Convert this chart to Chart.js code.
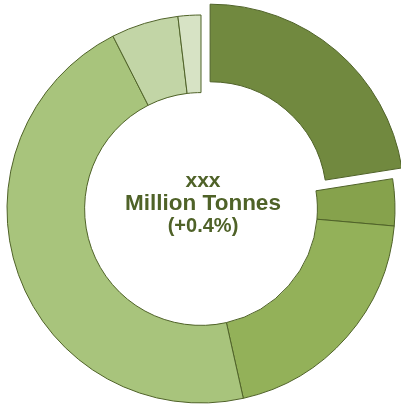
<!DOCTYPE html>
<html>
<head>
<meta charset="utf-8">
<script src="https://cdn.jsdelivr.net/npm/chart.js@4/dist/chart.umd.min.js"></script>
<style>
    body { margin: 0; background: #fff; }
    #wrap { position: relative; width: 401px; height: 407px; }
    #centre {
        position: absolute; left: 103px; top: 168px; width: 200px;
        text-align: center; color: #4F6228;
        font-family: "Liberation Sans", Arial, sans-serif; font-weight: bold;
        line-height: 23px;
    }
</style>
</head>
<body>
<div id="wrap">
    <canvas id="donut"></canvas>
    <div id="centre">
        <div style="font-size:21px">xxx</div>
        <div style="font-size:22.5px">Million Tonnes</div>
        <div style="font-size:20px">(+0.4%)</div>
    </div>
</div>
<script>
// share of each segment, clockwise from 12 o'clock (%)
const categories = ['Segment 1', 'Segment 2', 'Segment 3', 'Segment 4', 'Segment 5', 'Segment 6'];
const shares = [22.5, 3.9, 20.1, 46.0, 5.6, 1.9];
const colours = ['#71893F', '#86A24C', '#93B159', '#A8C47C', '#C2D5A6', '#D7E3C5'];
const explode = [56, 0, 0, 0, 0, 0];

new Chart(document.getElementById('donut'), {
    type: 'doughnut',
    data: {
        labels: categories,
        datasets: [{
            data: shares,
            backgroundColor: colours,
            borderColor: '#4F6228',
            borderWidth: 1,
            offset: explode,
        }],
    },
    options: {
        responsive: true,
        maintainAspectRatio: false,
        animation: false,
        events: [],
        radius: 194,
        cutout: '60%',
        layout: { padding: { left: 1, right: 0, top: 11, bottom: 0 } },
        plugins: { legend: { display: false }, tooltip: { enabled: false } },
    },
});
</script>
</body>
</html>
